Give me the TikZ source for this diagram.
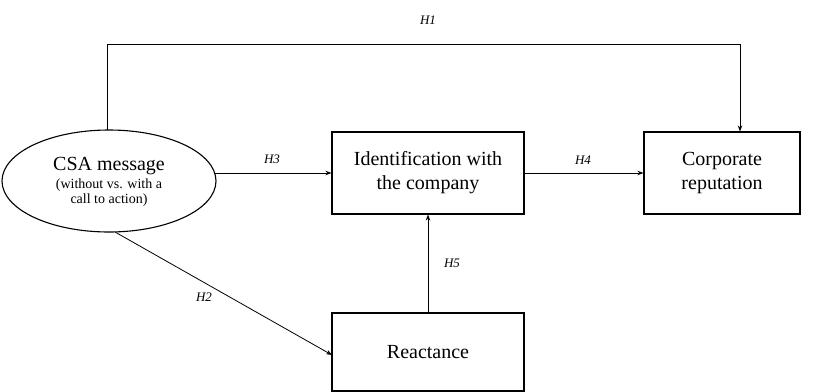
\documentclass[tikz,border=0pt]{standalone}
\usepackage{fontspec}
\setmainfont{Liberation Serif}
\usetikzlibrary{shapes.geometric,arrows.meta}
\begin{document}
\begin{tikzpicture}[x=1pt,y=-1pt,
  box/.style={draw,line width=1.1pt,minimum width=192pt,minimum height=82pt,inner sep=0pt,align=center,font=\fontsize{20}{24}\selectfont},
  conn/.style={line width=0.8pt,-{Stealth[length=6pt,width=4.5pt]}},
  hlab/.style={font=\itshape\fontsize{13}{15}\selectfont,inner sep=1pt}]
\useasboundingbox (0,0) rectangle (829,391);
\node[draw,ellipse,line width=1.1pt,minimum width=214pt,minimum height=102pt,inner sep=0pt] (csa) at (109,181) {};
\node[inner sep=0pt,align=center] (csatxt) at (109,182)
  {{\fontsize{20}{22}\selectfont CSA message}\\[3pt]{\fontsize{14}{19}\selectfont (without vs. with a}\\[2pt]{\fontsize{14}{19}\selectfont call to action)}};
\node[box] (ident) at (428,173) {Identification with\\the company};
\node[box,minimum width=156pt] (corp) at (722,173) {Corporate\\reputation};
\node[box,minimum height=78pt] (react) at (428,352) {Reactance};
\coordinate (h1a) at (107,44);
\coordinate (h1b) at (740,44);
\coordinate (csatop) at (107,130.3);
\draw[conn] (csatop) -- (h1a) -- (h1b) -- (h1b |- corp.north);
\coordinate (h3s) at (213.5,173);
\draw[conn] (h3s) -- (ident.west |- h3s);
\draw[conn] (ident.east) -- (corp.west);
\draw[conn] (react.north) -- (ident.south);
\coordinate (h2s) at (115,232);
\draw[conn] (h2s) -- (332,355);
\node[hlab] (l1) at (428,20) {H1};
\node[hlab] (l3) at (272,159) {H3};
\node[hlab] (l4) at (583,160) {H4};
\node[hlab] (l5) at (452,263) {H5};
\node[hlab] (l2) at (204,297) {H2};
\end{tikzpicture}
\end{document}
